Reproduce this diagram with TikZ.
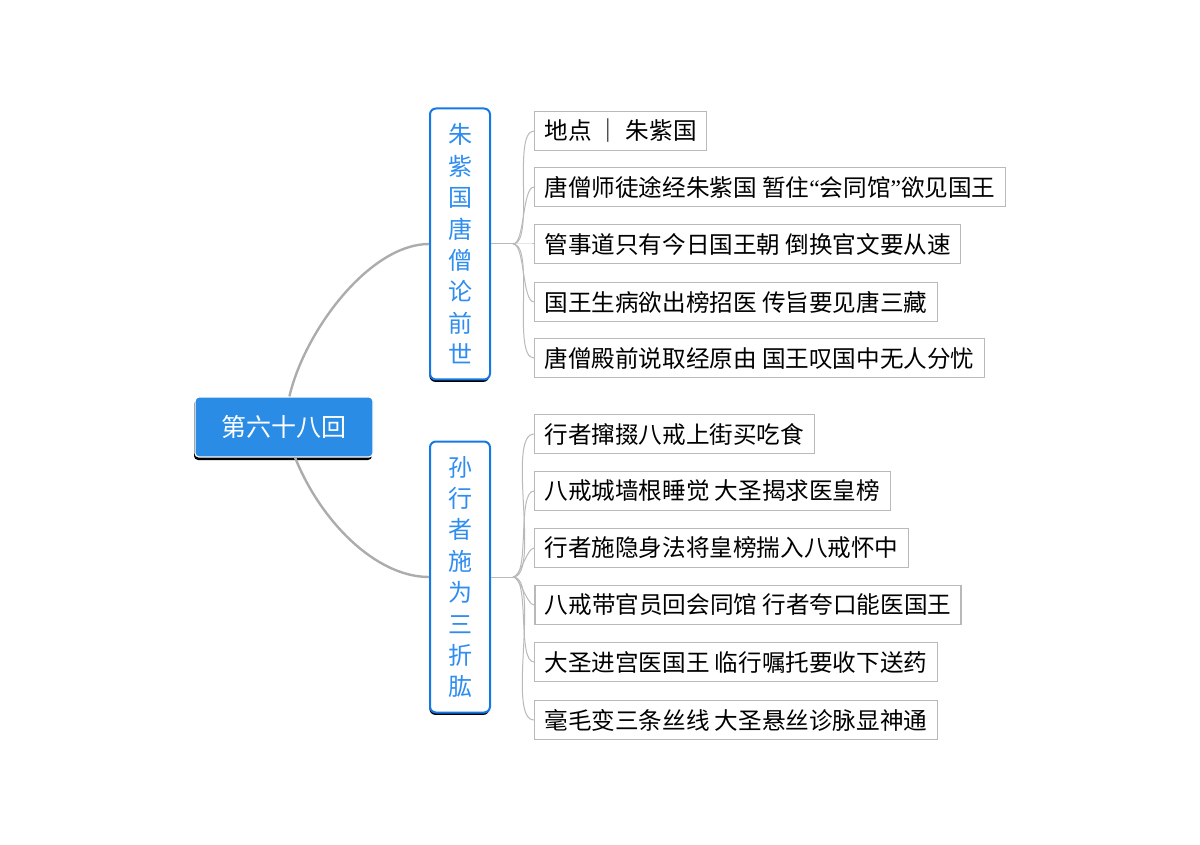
\documentclass[tikz,border=0pt]{standalone}
\usepackage{fontspec}
\setmainfont{Noto Sans CJK SC}
\newfontfamily\quotefont{Liberation Serif}
\usetikzlibrary{positioning, shadows}

\definecolor{rootblue}{HTML}{2A8CE4}
\definecolor{frameblue}{HTML}{1479E6}
\definecolor{topicblue}{HTML}{2E8DF0}

\tikzset{
  root/.style={rectangle, rounded corners=2pt, fill=rootblue, draw=white, line width=0.6pt,
    minimum width=89pt, minimum height=30pt, text=white, font=\fontsize{12.5pt}{15pt}\selectfont,
    drop shadow={shadow xshift=-0.5pt, shadow yshift=-1.5pt, fill=black, opacity=1}},
  topic/.style={rectangle, rounded corners=3pt, fill=white, draw=frameblue, line width=1pt,
    minimum width=30pt, minimum height=135.5pt, inner sep=0pt, text=topicblue, align=center,
    font=\fontsize{12pt}{15.7pt}\selectfont,
    drop shadow={shadow xshift=-0.3pt, shadow yshift=-1.2pt, fill=black, opacity=1}},
  leaf/.style={rectangle, draw=gray!55, line width=0.5pt, minimum height=19.5pt,
    inner xsep=5pt, inner ysep=0pt, anchor=west, font=\fontsize{11.8pt}{14pt}\selectfont},
  trunk/.style={draw=gray!65, line width=1.2pt},
  twig/.style={draw=gray!55, line width=0.5pt},
}

\begin{document}
\begin{tikzpicture}[x=0.5pt, y=-0.5pt]
    \useasboundingbox (0,0) rectangle (1200,845);

    % central topic and the two main branches
    \node[root] (root) at (284,427) {第六十八回};
    \node[topic] (B1) at (460,244) {朱\\紫\\国\\唐\\僧\\论\\前\\世};
    \node[topic] (B2) at (460,577) {孙\\行\\者\\施\\为\\三\\折\\肱};

    % first branch
    \node[leaf] (L1) at (534,131) {地点 ｜ 朱紫国};
    \node[leaf] (L2) [below=28pt of L1.west, anchor=west] {唐僧师徒途经朱紫国 暂住{\quotefont “}会同馆{\quotefont ”}欲见国王};
    \node[leaf] (L3) [below=28.5pt of L2.west, anchor=west] {管事道只有今日国王朝 倒换官文要从速};
    \node[leaf] (L4) [below=29pt of L3.west, anchor=west] {国王生病欲出榜招医 传旨要见唐三藏};
    \node[leaf] (L5) [below=28pt of L4.west, anchor=west] {唐僧殿前说取经原由 国王叹国中无人分忧};

    % second branch
    \node[leaf] (L6) at (534,434) {行者撺掇八戒上街买吃食};
    \node[leaf] (L7) [below=28.5pt of L6.west, anchor=west] {八戒城墙根睡觉 大圣揭求医皇榜};
    \node[leaf] (L8) [below=28.5pt of L7.west, anchor=west] {行者施隐身法将皇榜揣入八戒怀中};
    \node[leaf, line width=0.9pt] (L9) [below=28.5pt of L8.west, anchor=west] {八戒带官员回会同馆 行者夸口能医国王};
    \node[leaf] (L10) [below=28.5pt of L9.west, anchor=west] {大圣进宫医国王 临行嘱托要收下送药};
    \node[leaf] (L11) [below=29pt of L10.west, anchor=west] {毫毛变三条丝线 大圣悬丝诊脉显神通};

    \coordinate[right=11pt of B1.east] (h1);
    \coordinate[right=11pt of B2.east] (h2);

    % connectors
    \draw[trunk] (root.80) .. controls (305,330) and (370,244) .. (B1.west);
    \draw[trunk] (root.-70) .. controls (320,520) and (375,577) .. (B2.west);

    \draw[twig] (B1.east) -- (h1);
    \draw[twig] (B2.east) -- (h2);
    \path[twig]
        (h1) edge [out=0, in=180, looseness=0.5] (L1.west)
             edge [out=0, in=180, looseness=0.5] (L2.west)
             edge [out=0, in=180, looseness=0.5] (L3.west)
             edge [out=0, in=180, looseness=0.5] (L4.west)
             edge [out=0, in=180, looseness=0.5] (L5.west)
        (h2) edge [out=0, in=180, looseness=0.5] (L6.west)
             edge [out=0, in=180, looseness=0.5] (L7.west)
             edge [out=0, in=180, looseness=0.5] (L8.west)
             edge [out=0, in=180, looseness=0.5] (L9.west)
             edge [out=0, in=180, looseness=0.5] (L10.west)
             edge [out=0, in=180, looseness=0.5] (L11.west);
\end{tikzpicture}
\end{document}
